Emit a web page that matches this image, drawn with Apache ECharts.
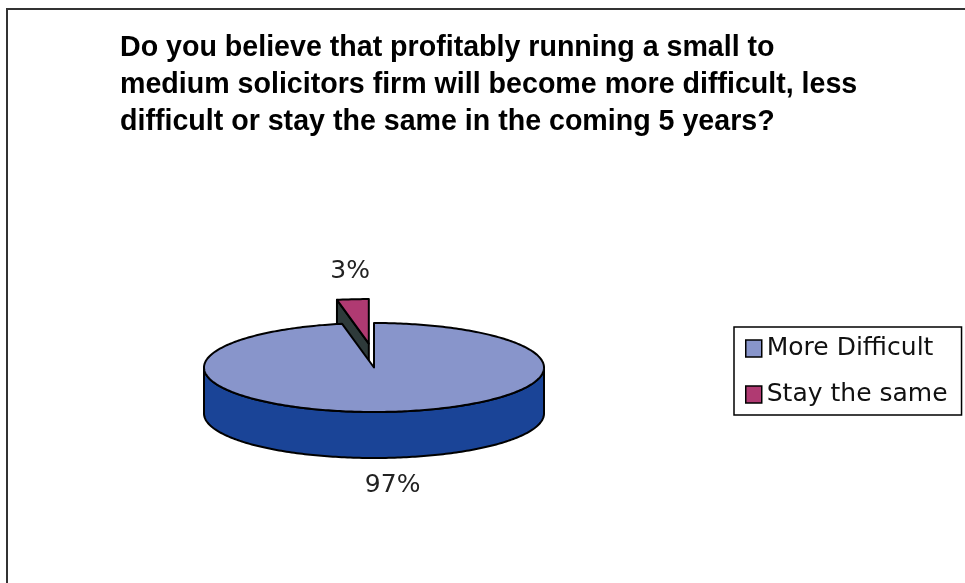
<!DOCTYPE html>
<html>
<head>
<meta charset="utf-8">
<script src="https://cdn.jsdelivr.net/npm/echarts@6/dist/echarts.min.js"></script>
<style>
  html, body { margin: 0; padding: 0; background: #fff; }
  #chart { width: 965px; height: 583px; }
</style>
</head>
<body>
<div id="chart"></div>
<script>
// Survey answers
const categories = ['More Difficult', 'Stay the same'];
const shares = [97, 3];
const labelTexts = ['97%', '3%'];

// Look of the 3D pie
const topColors = ['#8895CB', '#B03A72'];
const wallColors = ['#1A4497', '#2E3A3A'];
const explodeBy = [0, 0.54];
const pie = { cx: 374, cy: 367.5, rx: 170, ry: 44.5, depth: 46, labelGap: 28 };
const outline = { stroke: '#000', lineWidth: 2, lineJoin: 'round' };

const total = shares.reduce((a, b) => a + b, 0);
const rad = d => d * Math.PI / 180;

// Builds one slice of a tilted (elliptical) pie with a visible front wall.
// Slices start at 12 o'clock and run clockwise.
function sliceRenderer(idx) {
  return function (params, api) {
    let before = 0;
    for (let i = 0; i < idx; i++) before += shares[i];
    const value = api.value(0);
    const aHi = 90 - before / total * 360;
    const aLo = aHi - value / total * 360;
    const mid = (aHi + aLo) / 2;
    const ox = 0.6 * explodeBy[idx] * pie.rx * Math.cos(rad(mid));
    const oy = -explodeBy[idx] * pie.ry * Math.sin(rad(mid));
    const cx = pie.cx + ox, cy = pie.cy + oy;
    const pt = (a, dz) => [cx + pie.rx * Math.cos(rad(a)), cy - pie.ry * Math.sin(rad(a)) + dz];
    const arc = (a0, a1, dz) => {
      const pts = [];
      const n = Math.max(2, Math.ceil(Math.abs(a1 - a0)));
      for (let k = 0; k <= n; k++) pts.push(pt(a0 + (a1 - a0) * k / n, dz));
      return pts;
    };
    const children = [];
    const poly = (points, fill) => children.push({
      type: 'polygon', shape: { points }, style: Object.assign({ fill }, outline)
    });

    // radial side faces that turn towards the viewer
    [[aHi, Math.cos(rad(aHi)) < -1e-6], [aLo, Math.cos(rad(aLo)) > 1e-6]].forEach(([a, show]) => {
      if (!show) return;
      const e = pt(a, 0), eb = pt(a, pie.depth);
      poly([[cx, cy], e, eb, [cx, cy + pie.depth]], wallColors[idx]);
    });

    // curved front wall (lower half of the ellipse)
    for (let k = -1; k <= 1; k++) {
      const lo = Math.max(aLo, -180 + 360 * k), hi = Math.min(aHi, 360 * k);
      if (hi > lo) poly(arc(lo, hi, 0).concat(arc(hi, lo, pie.depth)), wallColors[idx]);
    }

    // top face
    poly([[cx, cy]].concat(arc(aLo, aHi, 0)), topColors[idx]);

    // percentage label just outside the slice
    const s = Math.sin(rad(mid));
    const edge = pt(mid, s < 0 ? pie.depth : 0);
    children.push({
      type: 'text',
      x: edge[0] + pie.labelGap * Math.cos(rad(mid)),
      y: edge[1] - pie.labelGap * s,
      style: {
        text: labelTexts[idx], fill: '#222', fontSize: 25,
        fontFamily: '"DejaVu Sans", sans-serif', align: 'center', verticalAlign: 'middle'
      }
    });
    return { type: 'group', children };
  };
}

const chart = echarts.init(document.getElementById('chart'), null, { renderer: 'canvas' });
chart.setOption({
  animation: false,
  backgroundColor: '#fff',
  title: {
    text: 'Do you believe that profitably running a small to\nmedium solicitors firm will become more difficult, less\ndifficult or stay the same in the coming 5 years?',
    left: 120,
    top: 30,
    padding: 0,
    textStyle: {
      fontFamily: '"Liberation Sans", Arial, sans-serif',
      fontWeight: 'bold', fontSize: 28.6, lineHeight: 37, color: '#000'
    }
  },
  legend: {
    data: categories,
    orient: 'vertical',
    left: 734,
    top: 327,
    padding: [9, 14, 8, 11],
    itemWidth: 16,
    itemHeight: 17,
    itemGap: 21,
    icon: 'rect',
    borderColor: '#000',
    borderWidth: 1.5,
    backgroundColor: '#fff',
    itemStyle: { borderColor: '#000', borderWidth: 1.5 },
    textStyle: { fontFamily: '"DejaVu Sans", sans-serif', fontSize: 25, color: '#111' }
  },
  graphic: [{
    type: 'rect', silent: true,
    shape: { x: 7, y: 9, width: 1000, height: 600 },
    style: { fill: 'none', stroke: '#333', lineWidth: 2 }
  }],
  series: categories.map((name, i) => ({
    type: 'custom',
    name,
    coordinateSystem: 'none',
    z: i === 0 ? 3 : 2,
    silent: true,
    itemStyle: { color: topColors[i] },
    data: [[shares[i]]],
    renderItem: sliceRenderer(i)
  }))
});
</script>
</body>
</html>
